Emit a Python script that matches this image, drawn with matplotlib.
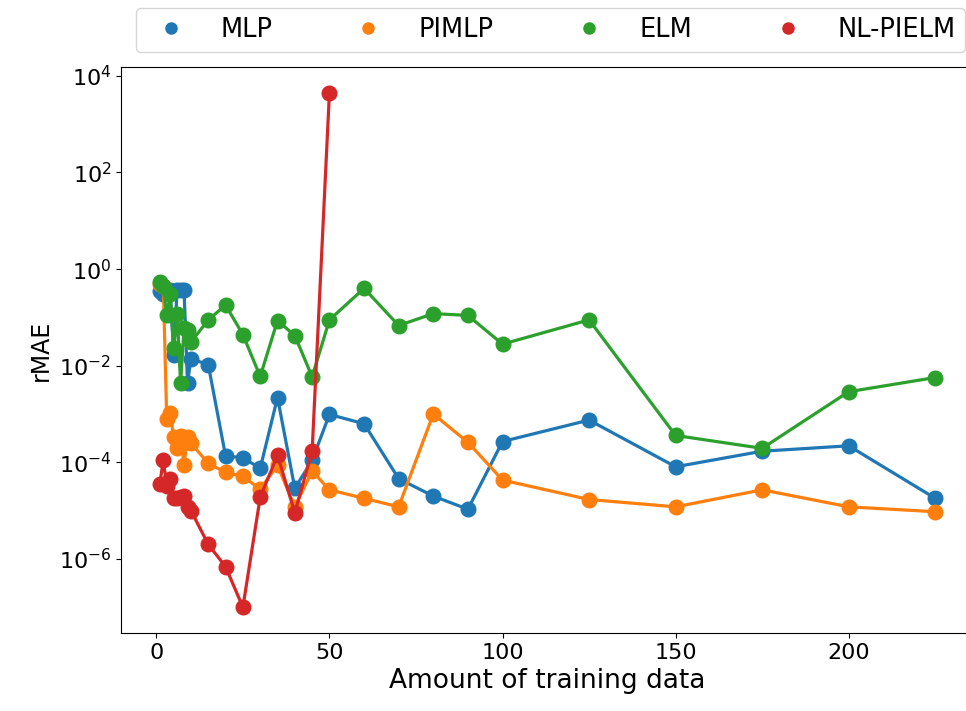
import matplotlib
matplotlib.use("Agg")
import matplotlib.pyplot as plt
from matplotlib.lines import Line2D
from matplotlib.ticker import NullLocator

## Data
x_all = [1, 2, 3, 4, 5, 6, 7, 8, 9, 10, 15, 20, 25, 30, 35, 40, 45, 50,
         60, 70, 80, 90, 100, 125, 150, 175, 200, 225]
x_nl = [1, 2, 3, 4, 5, 6, 7, 8, 9, 10, 15, 20, 25, 30, 35, 40, 45, 50]

mlp = [0.35, 0.30, 0.33, 0.37, 0.017, 0.37, 0.37, 0.37, 0.0044, 0.014,
       0.0105, 1.35e-4, 1.25e-4, 7.5e-5, 2.2e-3, 2.9e-5, 1.1e-4, 9.8e-4,
       6.3e-4, 4.6e-5, 2.0e-5, 1.07e-5, 2.7e-4, 7.5e-4, 8.1e-5, 1.7e-4, 2.2e-4, 1.8e-5]
pimlp = [0.5, 0.45, 8e-4, 1.05e-3, 3.3e-4, 2.0e-4, 3.5e-4, 9e-5, 3.3e-4, 2.5e-4,
         9.5e-5, 6.2e-5, 5.1e-5, 2.8e-5, 8.7e-5, 1.2e-5, 6.6e-5, 2.7e-5,
         1.8e-5, 1.2e-5, 1.0e-3, 2.6e-4, 4.3e-5, 1.7e-5, 1.2e-5, 2.7e-5, 1.2e-5, 9.5e-6]
elm = [0.55, 0.45, 0.11, 0.3, 0.023, 0.12, 0.0043, 0.06, 0.055, 0.031,
       0.089, 0.18, 0.044, 0.006, 0.086, 0.042, 0.0059, 0.089,
       0.40, 0.068, 0.12, 0.11, 0.028, 0.089, 3.6e-4, 1.95e-4, 2.9e-3, 5.7e-3]
nlpielm = [3.6e-5, 1.1e-4, 3.3e-5, 4.5e-5, 1.8e-5, 1.8e-5, 1.9e-5, 2.0e-5, 1.2e-5, 1.0e-5,
           2.0e-6, 6.9e-7, 1.0e-7, 1.9e-5, 1.4e-4, 9.1e-6, 1.7e-4, 4470]

labels = ["MLP", "PIMLP", "ELM", "NL-PIELM"]
colors = ["tab:blue", "tab:orange", "tab:green", "tab:red"]

fig = plt.figure(figsize=(9.66, 7.11), dpi=100)
ax = fig.add_axes([0.1253, 0.1097, 0.883, 0.796])

series = [(x_all, mlp), (x_all, pimlp), (x_all, elm), (x_nl, nlpielm)]
for (xs, ys), c in zip(series, colors):
    ax.plot(xs, ys, '-o', color=c, lw=2.3, markersize=10.5)

ax.set_yscale('log')
ax.set_yticks([1e-6, 1e-4, 1e-2, 1e0, 1e2, 1e4])
ax.yaxis.set_minor_locator(NullLocator())
ax.tick_params(labelsize=16)
ax.set_xlabel('Amount of training data', fontsize=19)
ax.set_ylabel('rMAE', fontsize=17)

## Legend with dot-only handles, sitting above the axes
handles = [Line2D([], [], marker='o', ls='none', color=c, markersize=8) for c in colors]
leg = ax.legend(handles, labels, loc='lower left', bbox_to_anchor=(0.0176, 1.027), ncol=4,
                fontsize=18.5, handletextpad=0.95, columnspacing=2.72,
                borderaxespad=0, borderpad=0.35)

fig.savefig('out.png', dpi=100)
